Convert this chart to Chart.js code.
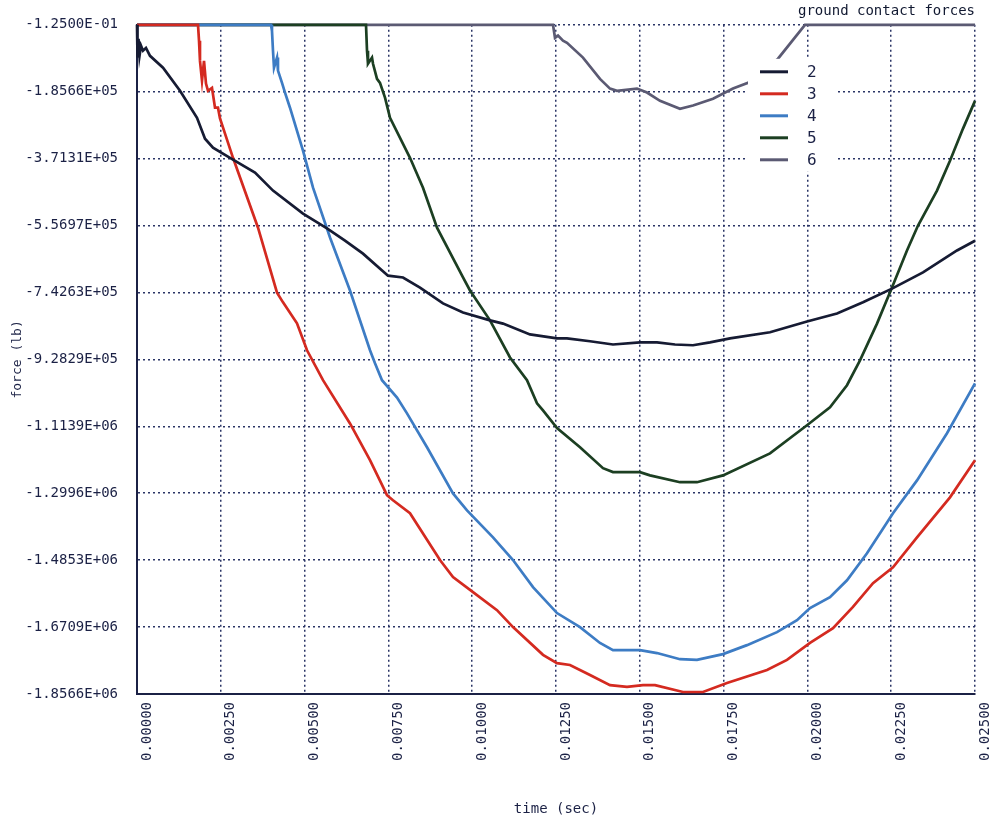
<!DOCTYPE html>
<html>
<head>
<meta charset="utf-8">
<script src="https://cdn.jsdelivr.net/npm/chart.js@4.4.1/dist/chart.umd.min.js"></script>
<style>
  html, body { margin: 0; padding: 0; background: #fff; }
</style>
</head>
<body>
<canvas id="chart" width="993" height="824"></canvas>
<script>
// Tick labels as printed on the original plot
const xTickLabels = ["0.00000", "0.00250", "0.00500", "0.00750", "0.01000", "0.01250",
  "0.01500", "0.01750", "0.02000", "0.02250", "0.02500"];
const yTickLabels = ["-1.2500E-01", "-1.8566E+05", "-3.7131E+05", "-5.5697E+05", "-7.4263E+05",
  "-9.2829E+05", "-1.1139E+06", "-1.2996E+06", "-1.4853E+06", "-1.6709E+06", "-1.8566E+06"];

// Ground contact forces (lb) against time (sec)
const s2Time = [0, 0.000015, 0.000045, 0.000075, 0.000119, 0.000179, 0.000268, 0.000388, 0.000776, 0.001283,
  0.001790, 0.002029, 0.002267, 0.002775, 0.003520, 0.004057, 0.004952, 0.005668, 0.006205, 0.006742,
  0.007488, 0.007936, 0.008443, 0.009129, 0.009726, 0.010531, 0.010919, 0.011724, 0.012530, 0.012828,
  0.013514, 0.014200, 0.015006, 0.015513, 0.016050, 0.016587, 0.017094, 0.017691, 0.018884, 0.019988,
  0.020883, 0.021659, 0.022524, 0.023449, 0.024463, 0.025];
const s2Force = [0, -91000, -39000, -86000, -58000, -72000, -64000, -86000, -119000, -183000,
  -258000, -316000, -341000, -369000, -410000, -460000, -524000, -565000, -599000, -635000,
  -696000, -701000, -729000, -773000, -798000, -820000, -829000, -859000, -870000, -870000,
  -878000, -887000, -881000, -881000, -887000, -889000, -881000, -870000, -853000, -823000,
  -801000, -770000, -732000, -687000, -626000, -599000];

const s3Time = [0, 0.001820, 0.001850, 0.001879, 0.001939, 0.001999, 0.002058, 0.002118, 0.002237, 0.002327,
  0.002416, 0.002476, 0.002864, 0.003610, 0.004177, 0.004356, 0.004773, 0.005072, 0.005549, 0.006354,
  0.006951, 0.007458, 0.007637, 0.008144, 0.009039, 0.009427, 0.010024, 0.010740, 0.011217, 0.012112,
  0.012530, 0.012918, 0.013514, 0.014111, 0.014618, 0.015095, 0.015453, 0.016289, 0.016886, 0.017601,
  0.018795, 0.019391, 0.020078, 0.020764, 0.021360, 0.021957, 0.022554, 0.023270, 0.024254, 0.025];
const s3Force = [0, 0, -44000, -100000, -155000, -100000, -163000, -183000, -175000, -230000,
  -230000, -260000, -369000, -563000, -743000, -770000, -828000, -903000, -986000, -1106000,
  -1208000, -1305000, -1319000, -1355000, -1485000, -1532000, -1574000, -1624000, -1671000, -1748000,
  -1771000, -1776000, -1804000, -1832000, -1837000, -1832000, -1832000, -1851000, -1851000, -1826000,
  -1790000, -1762000, -1715000, -1674000, -1615000, -1549000, -1505000, -1422000, -1311000, -1208000];

const s4Time = [0, 0.003998, 0.004027, 0.004057, 0.004087, 0.004177, 0.004206, 0.004326, 0.004415, 0.004564,
  0.004952, 0.005251, 0.005758, 0.006354, 0.006951, 0.007100, 0.007309, 0.007757, 0.008055, 0.008652,
  0.009427, 0.009845, 0.010621, 0.011217, 0.011814, 0.012530, 0.013216, 0.013812, 0.014200, 0.015006,
  0.015513, 0.016199, 0.016706, 0.017482, 0.018198, 0.019093, 0.019690, 0.020078, 0.020674, 0.021181,
  0.021778, 0.022554, 0.023270, 0.024165, 0.025];
const s4Force = [0, 0, -17000, -72000, -119000, -91000, -127000, -161000, -188000, -230000,
  -349000, -452000, -590000, -737000, -903000, -939000, -986000, -1034000, -1078000, -1172000,
  -1300000, -1347000, -1422000, -1485000, -1560000, -1632000, -1671000, -1715000, -1735000, -1735000,
  -1743000, -1760000, -1762000, -1746000, -1721000, -1685000, -1652000, -1618000, -1588000, -1541000,
  -1466000, -1355000, -1264000, -1133000, -995000];

const s5Time = [0, 0.006832, 0.006862, 0.006891, 0.007011, 0.007041, 0.007160, 0.007249, 0.007399, 0.007548,
  0.008144, 0.008532, 0.008950, 0.009726, 0.009934, 0.010531, 0.011128, 0.011635, 0.011933, 0.012112,
  0.012530, 0.013216, 0.013902, 0.014200, 0.015006, 0.015304, 0.016199, 0.016706, 0.017482, 0.018884,
  0.019988, 0.020674, 0.021181, 0.021569, 0.022076, 0.022524, 0.022971, 0.023300, 0.023866, 0.024254,
  0.024642, 0.025];
const s5Force = [0, 0, -72000, -108000, -91000, -108000, -150000, -161000, -202000, -258000,
  -369000, -452000, -563000, -701000, -737000, -820000, -923000, -986000, -1050000, -1070000,
  -1119000, -1172000, -1230000, -1241000, -1241000, -1250000, -1269000, -1269000, -1250000, -1189000,
  -1111000, -1061000, -1000000, -931000, -829000, -729000, -626000, -557000, -460000, -377000,
  -288000, -211000];

const s6Time = [0, 0.012411, 0.012470, 0.012560, 0.012709, 0.012828, 0.013305, 0.013812, 0.014111, 0.014320,
  0.014916, 0.015215, 0.015603, 0.016199, 0.016587, 0.017184, 0.017780, 0.018228, 0.019123, 0.019928, 0.025];
const s6Force = [0, 0, -36000, -30000, -44000, -50000, -91000, -150000, -177000, -183000,
  -177000, -188000, -211000, -233000, -224000, -205000, -177000, -161000, -94000, 0, 0];

const seriesLabels = ["2", "3", "4", "5", "6"];
const seriesColors = ["#161b33", "#d42a20", "#3d7cc4", "#1c3f22", "#5b5a73"];
const seriesTimes = [s2Time, s3Time, s4Time, s5Time, s6Time];
const seriesForces = [s2Force, s3Force, s4Force, s5Force, s6Force];

const monoFont = "'DejaVu Sans Mono', monospace";
const inkColor = "#1b2145";
const gridColor = "#2b3566";

// Legend box sitting inside the plot, near the top right
const boxLegend = {
  id: "boxLegend",
  afterDatasetsDraw(chart) {
    const { ctx, chartArea } = chart;
    const x0 = chartArea.right - 227;
    const y0 = chartArea.top + 34;
    ctx.save();
    ctx.fillStyle = "#ffffff";
    ctx.fillRect(x0, y0, 90, 113);
    chart.data.datasets.forEach((ds, i) => {
      const y = y0 + 13 + i * 22;
      ctx.strokeStyle = ds.borderColor;
      ctx.lineWidth = 3;
      ctx.beginPath();
      ctx.moveTo(x0 + 12, y);
      ctx.lineTo(x0 + 40, y);
      ctx.stroke();
      ctx.fillStyle = inkColor;
      ctx.font = "16px " + monoFont;
      ctx.textBaseline = "middle";
      ctx.fillText(ds.label, x0 + 59, y + 1);
    });
    ctx.restore();
  },
};

const datasets = seriesLabels.map((label, k) => ({
  label: label,
  data: seriesTimes[k].map((t, i) => ({ x: t, y: seriesForces[k][i] })),
  borderColor: seriesColors[k],
  backgroundColor: seriesColors[k],
  borderWidth: 2.7,
  pointRadius: 0,
  tension: 0,
  fill: false,
  clip: false,
}));

const ctx = document.getElementById("chart").getContext("2d");
new Chart(ctx, {
  type: "line",
  data: { datasets: datasets },
  options: {
    responsive: false,
    animation: false,
    layout: { padding: { left: 0, right: 18, top: 0, bottom: 0 } },
    scales: {
      x: {
        type: "linear",
        min: 0,
        max: 0.025,
        afterBuildTicks: (scale) => {
          scale.ticks = xTickLabels.map((l) => ({ value: parseFloat(l) }));
        },
        afterFit: (scale) => {
          scale.height = 130;
          scale.paddingLeft = 0;
          scale.paddingRight = 0;
        },
        ticks: {
          autoSkip: false,
          minRotation: 90,
          maxRotation: 90,
          padding: 8,
          labelOffset: 10,
          color: inkColor,
          font: { family: monoFont, size: 14 },
          callback: (v, i) => xTickLabels[i],
        },
        grid: { color: gridColor, lineWidth: 1.5, drawTicks: false },
        border: { display: true, color: inkColor, width: 2, dash: [2, 3] },
        title: {
          display: true,
          text: "time (sec)",
          color: inkColor,
          font: { family: monoFont, size: 14 },
          padding: { top: 0, bottom: 6 },
        },
      },
      y: {
        type: "linear",
        min: -1856600,
        max: -0.125,
        afterBuildTicks: (scale) => {
          scale.ticks = yTickLabels.map((l) => ({ value: parseFloat(l) }));
        },
        afterFit: (scale) => {
          scale.width = 137;
          scale.paddingTop = 0;
          scale.paddingBottom = 0;
        },
        ticks: {
          autoSkip: false,
          padding: 19,
          color: inkColor,
          font: { family: monoFont, size: 14 },
          callback: (v) => {
            const i = yTickLabels.findIndex((l) => parseFloat(l) === v);
            return i >= 0 ? yTickLabels[i] : "";
          },
        },
        grid: { color: gridColor, lineWidth: 1.5, drawTicks: false },
        border: { display: true, color: inkColor, width: 2, dash: [2, 3] },
        title: {
          display: true,
          text: "force (lb)",
          color: inkColor,
          font: { family: monoFont, size: 13 },
          padding: { top: 10, bottom: 0 },
        },
      },
    },
    plugins: {
      legend: { display: false },
      tooltip: { enabled: false },
      title: {
        display: true,
        text: "ground contact forces",
        align: "end",
        color: "#101830",
        font: { family: monoFont, size: 14, weight: "normal" },
        padding: { top: 3, bottom: 5 },
      },
    },
  },
  plugins: [boxLegend],
});
</script>
</body>
</html>
